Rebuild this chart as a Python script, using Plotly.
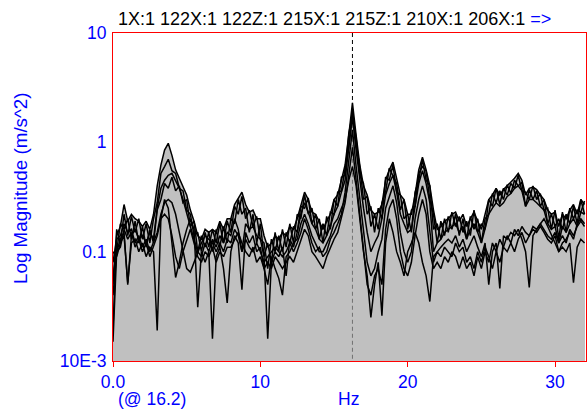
import plotly.graph_objects as go

# ---------------- data ----------------
channels = ["1X:1", "122X:1", "122Z:1", "215X:1", "215Z:1", "210X:1", "206X:1"]
freq_step = 0.25  # Hz per spectral line
cursor_hz = 16.25
cursor_label = "(@ 16.2)"
x_ticks = [0, 10, 20, 30]
x_ticktext = ["0.0", "10", "20", "30"]
y_ticks = [10, 1, 0.1, 0.01]
y_ticktext = ["10", "1", "0.1", "10E-3"]

s1 = [0.02, 0.14, 0.17, 0.27, 0.19, 0.22, 0.2, 0.19, 0.17, 0.19, 0.16, 0.22, 0.4, 0.62, 0.85, 0.98,
      0.76, 0.56, 0.47, 0.4, 0.33, 0.24, 0.19, 0.14, 0.13, 0.16, 0.15, 0.16, 0.15, 0.19, 0.16, 0.2,
      0.2, 0.27, 0.31, 0.35, 0.27, 0.23, 0.24, 0.2, 0.2, 0.14, 0.11, 0.12, 0.14, 0.13, 0.15, 0.14,
      0.17, 0.16, 0.2, 0.27, 0.35, 0.3, 0.23, 0.22, 0.19, 0.16, 0.19, 0.22, 0.3, 0.33, 0.45, 0.62,
      1.16, 2.3, 1.16, 0.62, 0.4, 0.33, 0.24, 0.22, 0.23, 0.27, 0.45, 0.56, 0.66, 0.45, 0.33, 0.3,
      0.22, 0.22, 0.33, 0.56, 0.73, 0.56, 0.4, 0.24, 0.16, 0.17, 0.19, 0.2, 0.22, 0.23, 0.19, 0.22,
      0.17, 0.2, 0.23, 0.19, 0.16, 0.22, 0.3, 0.33, 0.38, 0.33, 0.37, 0.4, 0.43, 0.47, 0.52, 0.45,
      0.33, 0.38, 0.39, 0.37, 0.33, 0.3, 0.24, 0.22, 0.23, 0.17, 0.22, 0.2, 0.24, 0.27, 0.22, 0.3,
      0.27]
s2 = [0.05, 0.16, 0.12, 0.22, 0.14, 0.21, 0.15, 0.2, 0.13, 0.18, 0.12, 0.2, 0.28, 0.52, 0.6, 0.7,
      0.55, 0.52, 0.38, 0.36, 0.24, 0.22, 0.14, 0.15, 0.1, 0.15, 0.11, 0.16, 0.12, 0.18, 0.12, 0.19,
      0.15, 0.26, 0.22, 0.32, 0.2, 0.24, 0.17, 0.21, 0.13, 0.12, 0.07, 0.13, 0.1, 0.14, 0.1, 0.15,
      0.12, 0.17, 0.15, 0.26, 0.25, 0.31, 0.18, 0.22, 0.13, 0.18, 0.14, 0.23, 0.22, 0.35, 0.36, 0.58,
      0.9, 2.0, 0.95, 0.6, 0.3, 0.32, 0.17, 0.22, 0.16, 0.28, 0.35, 0.58, 0.5, 0.42, 0.24, 0.3,
      0.16, 0.24, 0.26, 0.52, 0.6, 0.55, 0.3, 0.22, 0.12, 0.19, 0.14, 0.21, 0.16, 0.22, 0.14, 0.2,
      0.13, 0.21, 0.16, 0.2, 0.12, 0.2, 0.22, 0.34, 0.28, 0.36, 0.3, 0.41, 0.34, 0.45, 0.4, 0.43,
      0.26, 0.37, 0.3, 0.36, 0.26, 0.3, 0.18, 0.22, 0.17, 0.2, 0.16, 0.22, 0.18, 0.26, 0.18, 0.3,
      0.22]
s3 = [0.015, 0.1, 0.13, 0.15, 0.05, 0.14, 0.16, 0.13, 0.14, 0.12, 0.15, 0.13, 0.25, 0.38, 0.45, 0.5,
      0.52, 0.45, 0.38, 0.3, 0.22, 0.17, 0.13, 0.1, 0.09, 0.12, 0.1, 0.13, 0.11, 0.14, 0.12, 0.15,
      0.14, 0.2, 0.16, 0.1, 0.18, 0.16, 0.17, 0.14, 0.13, 0.09, 0.016, 0.08, 0.1, 0.09, 0.11, 0.06,
      0.13, 0.11, 0.15, 0.22, 0.28, 0.23, 0.18, 0.16, 0.13, 0.12, 0.14, 0.17, 0.22, 0.26, 0.35, 0.45,
      0.9, 1.7, 0.85, 0.45, 0.25, 0.15, 0.1, 0.12, 0.14, 0.2, 0.33, 0.42, 0.5, 0.35, 0.22, 0.18,
      0.15, 0.16, 0.25, 0.42, 0.55, 0.42, 0.28, 0.1, 0.12, 0.13, 0.15, 0.16, 0.17, 0.18, 0.15, 0.17,
      0.13, 0.16, 0.18, 0.15, 0.12, 0.16, 0.22, 0.25, 0.28, 0.26, 0.28, 0.32, 0.34, 0.38, 0.4, 0.36,
      0.26, 0.3, 0.3, 0.28, 0.26, 0.24, 0.18, 0.16, 0.17, 0.12, 0.17, 0.15, 0.18, 0.2, 0.17, 0.23,
      0.22]
s4 = [0.1, 0.09, 0.12, 0.14, 0.052, 0.12, 0.13, 0.1, 0.12, 0.09, 0.11, 0.1, 0.019, 0.2, 0.3, 0.25,
      0.12, 0.058, 0.08, 0.12, 0.16, 0.2, 0.16, 0.031, 0.1, 0.08, 0.1, 0.016, 0.09, 0.11, 0.07, 0.034,
      0.1, 0.14, 0.12, 0.045, 0.15, 0.12, 0.14, 0.1, 0.11, 0.07, 0.05, 0.09, 0.07, 0.057, 0.04, 0.09,
      0.1, 0.12, 0.13, 0.18, 0.22, 0.18, 0.14, 0.12, 0.1, 0.1, 0.12, 0.14, 0.18, 0.2, 0.25, 0.3,
      0.45, 0.6, 0.4, 0.2, 0.1, 0.06, 0.025, 0.05, 0.08, 0.026, 0.12, 0.2, 0.15, 0.1, 0.08, 0.06,
      0.1, 0.12, 0.15, 0.12, 0.08, 0.06, 0.035, 0.09, 0.1, 0.11, 0.12, 0.13, 0.12, 0.14, 0.11, 0.13,
      0.1, 0.12, 0.14, 0.11, 0.09, 0.12, 0.05, 0.1, 0.12, 0.046, 0.14, 0.13, 0.15, 0.14, 0.16, 0.13,
      0.1, 0.047, 0.14, 0.16, 0.18, 0.2, 0.17, 0.14, 0.12, 0.1, 0.11, 0.1, 0.12, 0.052, 0.11, 0.13,
      0.12]
s5 = [0.08, 0.13, 0.14, 0.18, 0.15, 0.16, 0.12, 0.14, 0.11, 0.13, 0.1, 0.12, 0.15, 0.22, 0.28, 0.3,
      0.28, 0.22, 0.15, 0.1, 0.07, 0.065, 0.08, 0.1, 0.12, 0.14, 0.13, 0.12, 0.1, 0.12, 0.1, 0.13,
      0.12, 0.16, 0.14, 0.1, 0.13, 0.11, 0.1, 0.12, 0.1, 0.08, 0.09, 0.1, 0.11, 0.1, 0.09, 0.1,
      0.12, 0.1, 0.12, 0.15, 0.2, 0.16, 0.12, 0.1, 0.11, 0.09, 0.1, 0.13, 0.15, 0.18, 0.22, 0.35,
      0.7, 1.3, 0.6, 0.3, 0.15, 0.08, 0.06, 0.07, 0.1, 0.13, 0.25, 0.32, 0.4, 0.28, 0.15, 0.1,
      0.08, 0.1, 0.2, 0.3, 0.4, 0.3, 0.15, 0.08, 0.1, 0.09, 0.11, 0.1, 0.09, 0.12, 0.1, 0.11,
      0.08, 0.09, 0.07, 0.1, 0.08, 0.11, 0.09, 0.07, 0.1, 0.08, 0.11, 0.1, 0.12, 0.1, 0.13, 0.15,
      0.12, 0.14, 0.16, 0.15, 0.17, 0.15, 0.13, 0.12, 0.14, 0.1, 0.12, 0.13, 0.15, 0.13, 0.18, 0.2,
      0.18]
s6 = [0.04, 0.1, 0.18, 0.16, 0.2, 0.13, 0.19, 0.12, 0.17, 0.11, 0.16, 0.12, 0.24, 0.3, 0.42, 0.38,
      0.48, 0.36, 0.4, 0.28, 0.3, 0.17, 0.19, 0.1, 0.14, 0.11, 0.15, 0.1, 0.16, 0.11, 0.17, 0.12,
      0.2, 0.18, 0.3, 0.22, 0.25, 0.15, 0.22, 0.12, 0.18, 0.09, 0.12, 0.08, 0.15, 0.1, 0.16, 0.11,
      0.18, 0.12, 0.22, 0.2, 0.33, 0.22, 0.25, 0.16, 0.2, 0.12, 0.21, 0.16, 0.3, 0.26, 0.48, 0.5,
      1.2, 1.8, 1.1, 0.5, 0.42, 0.22, 0.26, 0.15, 0.25, 0.2, 0.48, 0.45, 0.62, 0.35, 0.33, 0.2,
      0.22, 0.15, 0.35, 0.45, 0.7, 0.45, 0.4, 0.16, 0.18, 0.13, 0.2, 0.15, 0.23, 0.17, 0.21, 0.15,
      0.19, 0.14, 0.24, 0.15, 0.18, 0.16, 0.3, 0.26, 0.38, 0.27, 0.38, 0.33, 0.42, 0.38, 0.5, 0.36,
      0.35, 0.3, 0.4, 0.3, 0.34, 0.24, 0.25, 0.16, 0.24, 0.13, 0.23, 0.15, 0.25, 0.2, 0.24, 0.23,
      0.29]
s7 = [0.06, 0.1, 0.11, 0.16, 0.13, 0.15, 0.11, 0.13, 0.1, 0.12, 0.09, 0.11, 0.14, 0.2, 0.22, 0.2,
      0.14, 0.09, 0.07, 0.1, 0.13, 0.16, 0.12, 0.09, 0.08, 0.1, 0.09, 0.11, 0.08, 0.1, 0.09, 0.11,
      0.11, 0.13, 0.15, 0.12, 0.1, 0.09, 0.11, 0.08, 0.09, 0.07, 0.08, 0.07, 0.09, 0.08, 0.07, 0.08,
      0.09, 0.08, 0.1, 0.13, 0.16, 0.14, 0.1, 0.09, 0.08, 0.07, 0.09, 0.11, 0.13, 0.15, 0.2, 0.28,
      0.5, 0.9, 0.45, 0.22, 0.1, 0.05, 0.04, 0.06, 0.07, 0.05, 0.16, 0.25, 0.3, 0.2, 0.1, 0.07,
      0.06, 0.08, 0.14, 0.22, 0.3, 0.22, 0.1, 0.07, 0.08, 0.07, 0.09, 0.08, 0.1, 0.09, 0.07, 0.09,
      0.07, 0.08, 0.06, 0.09, 0.07, 0.1, 0.08, 0.12, 0.1, 0.13, 0.11, 0.14, 0.12, 0.16, 0.14, 0.17,
      0.15, 0.14, 0.17, 0.16, 0.18, 0.16, 0.14, 0.13, 0.15, 0.12, 0.14, 0.12, 0.16, 0.14, 0.17, 0.19,
      0.17]

series = [s1, s2, s3, s4, s5, s6, s7]

# ---------------- figure ----------------
FONT = "Arial, Liberation Sans, sans-serif"
FS = 17.5
BLUE = "#0000ff"
RED = "#ff0000"

fig = go.Figure()
# grey fills first (so every outline stays visible on top)
for name, vals in zip(channels, series):
    freqs = [i * freq_step for i in range(len(vals))]
    fig.add_trace(go.Scatter(
        x=freqs, y=vals, mode="lines", line=dict(width=0, color="#c0c0c0"),
        fill="tozeroy", fillcolor="#c0c0c0", showlegend=False, hoverinfo="skip"))

# cursor line: black above the spectra, grey inside the filled area
cursor_top = max(v[int(round(cursor_hz / freq_step))] for v in series)
fig.add_trace(go.Scatter(x=[cursor_hz, cursor_hz], y=[10, cursor_top], mode="lines",
                         line=dict(color="black", width=1, dash="4px,3px"),
                         showlegend=False, hoverinfo="skip"))
fig.add_trace(go.Scatter(x=[cursor_hz, cursor_hz], y=[cursor_top, 0.01], mode="lines",
                         line=dict(color="#707070", width=1, dash="4px,3px"),
                         showlegend=False, hoverinfo="skip"))

# black outlines
for name, vals in zip(channels, series):
    freqs = [i * freq_step for i in range(len(vals))]
    fig.add_trace(go.Scatter(
        x=freqs, y=vals, name=name, mode="lines",
        line=dict(color="black", width=1.5),
        showlegend=False, hoverinfo="skip"))

fig.update_layout(
    width=587, height=411,
    margin=dict(l=113, r=1, t=33, b=50),
    paper_bgcolor="white", plot_bgcolor="white",
    font=dict(family=FONT, size=FS, color=BLUE),
    xaxis=dict(range=[0, 32.1], tickvals=x_ticks, ticktext=x_ticktext,
               ticks="outside", ticklen=5, tickcolor=RED, tickwidth=1,
               showline=True, linecolor=RED, linewidth=1, mirror=True,
               showgrid=False, zeroline=False,
               tickfont=dict(family=FONT, size=FS, color=BLUE)),
    yaxis=dict(type="log", range=[-2, 1], tickvals=y_ticks, ticktext=y_ticktext,
               ticks="", showline=True, linecolor=RED, linewidth=1, mirror=True,
               showgrid=False, zeroline=False, ticklabelstandoff=2,
               tickfont=dict(family=FONT, size=FS, color=BLUE)),
)

title_text = " ".join(channels) + ' <span style="color:#0000ff">=&gt;</span>'
fig.add_annotation(text=title_text, xref="paper", yref="paper", x=0, y=1,
                   xanchor="left", yanchor="bottom", xshift=3, yshift=2, showarrow=False,
                   font=dict(family=FONT, size=18, color="black"))
fig.add_annotation(text="Log Magnitude (m/s^2)", xref="paper", yref="paper",
                   x=0, y=0.5, xanchor="center", yanchor="middle", xshift=-93, yshift=9,
                   textangle=-90, showarrow=False,
                   font=dict(family=FONT, size=18.8, color=BLUE))
fig.add_annotation(text=cursor_label, xref="x", yref="paper", x=2.65, y=0,
                   yanchor="middle", yshift=-38, showarrow=False,
                   font=dict(family=FONT, size=FS, color=BLUE))
fig.add_annotation(text="Hz", xref="x", yref="paper", x=16.0, y=0,
                   yanchor="middle", yshift=-38, showarrow=False,
                   font=dict(family=FONT, size=FS, color=BLUE))

fig.write_html("out.html")
